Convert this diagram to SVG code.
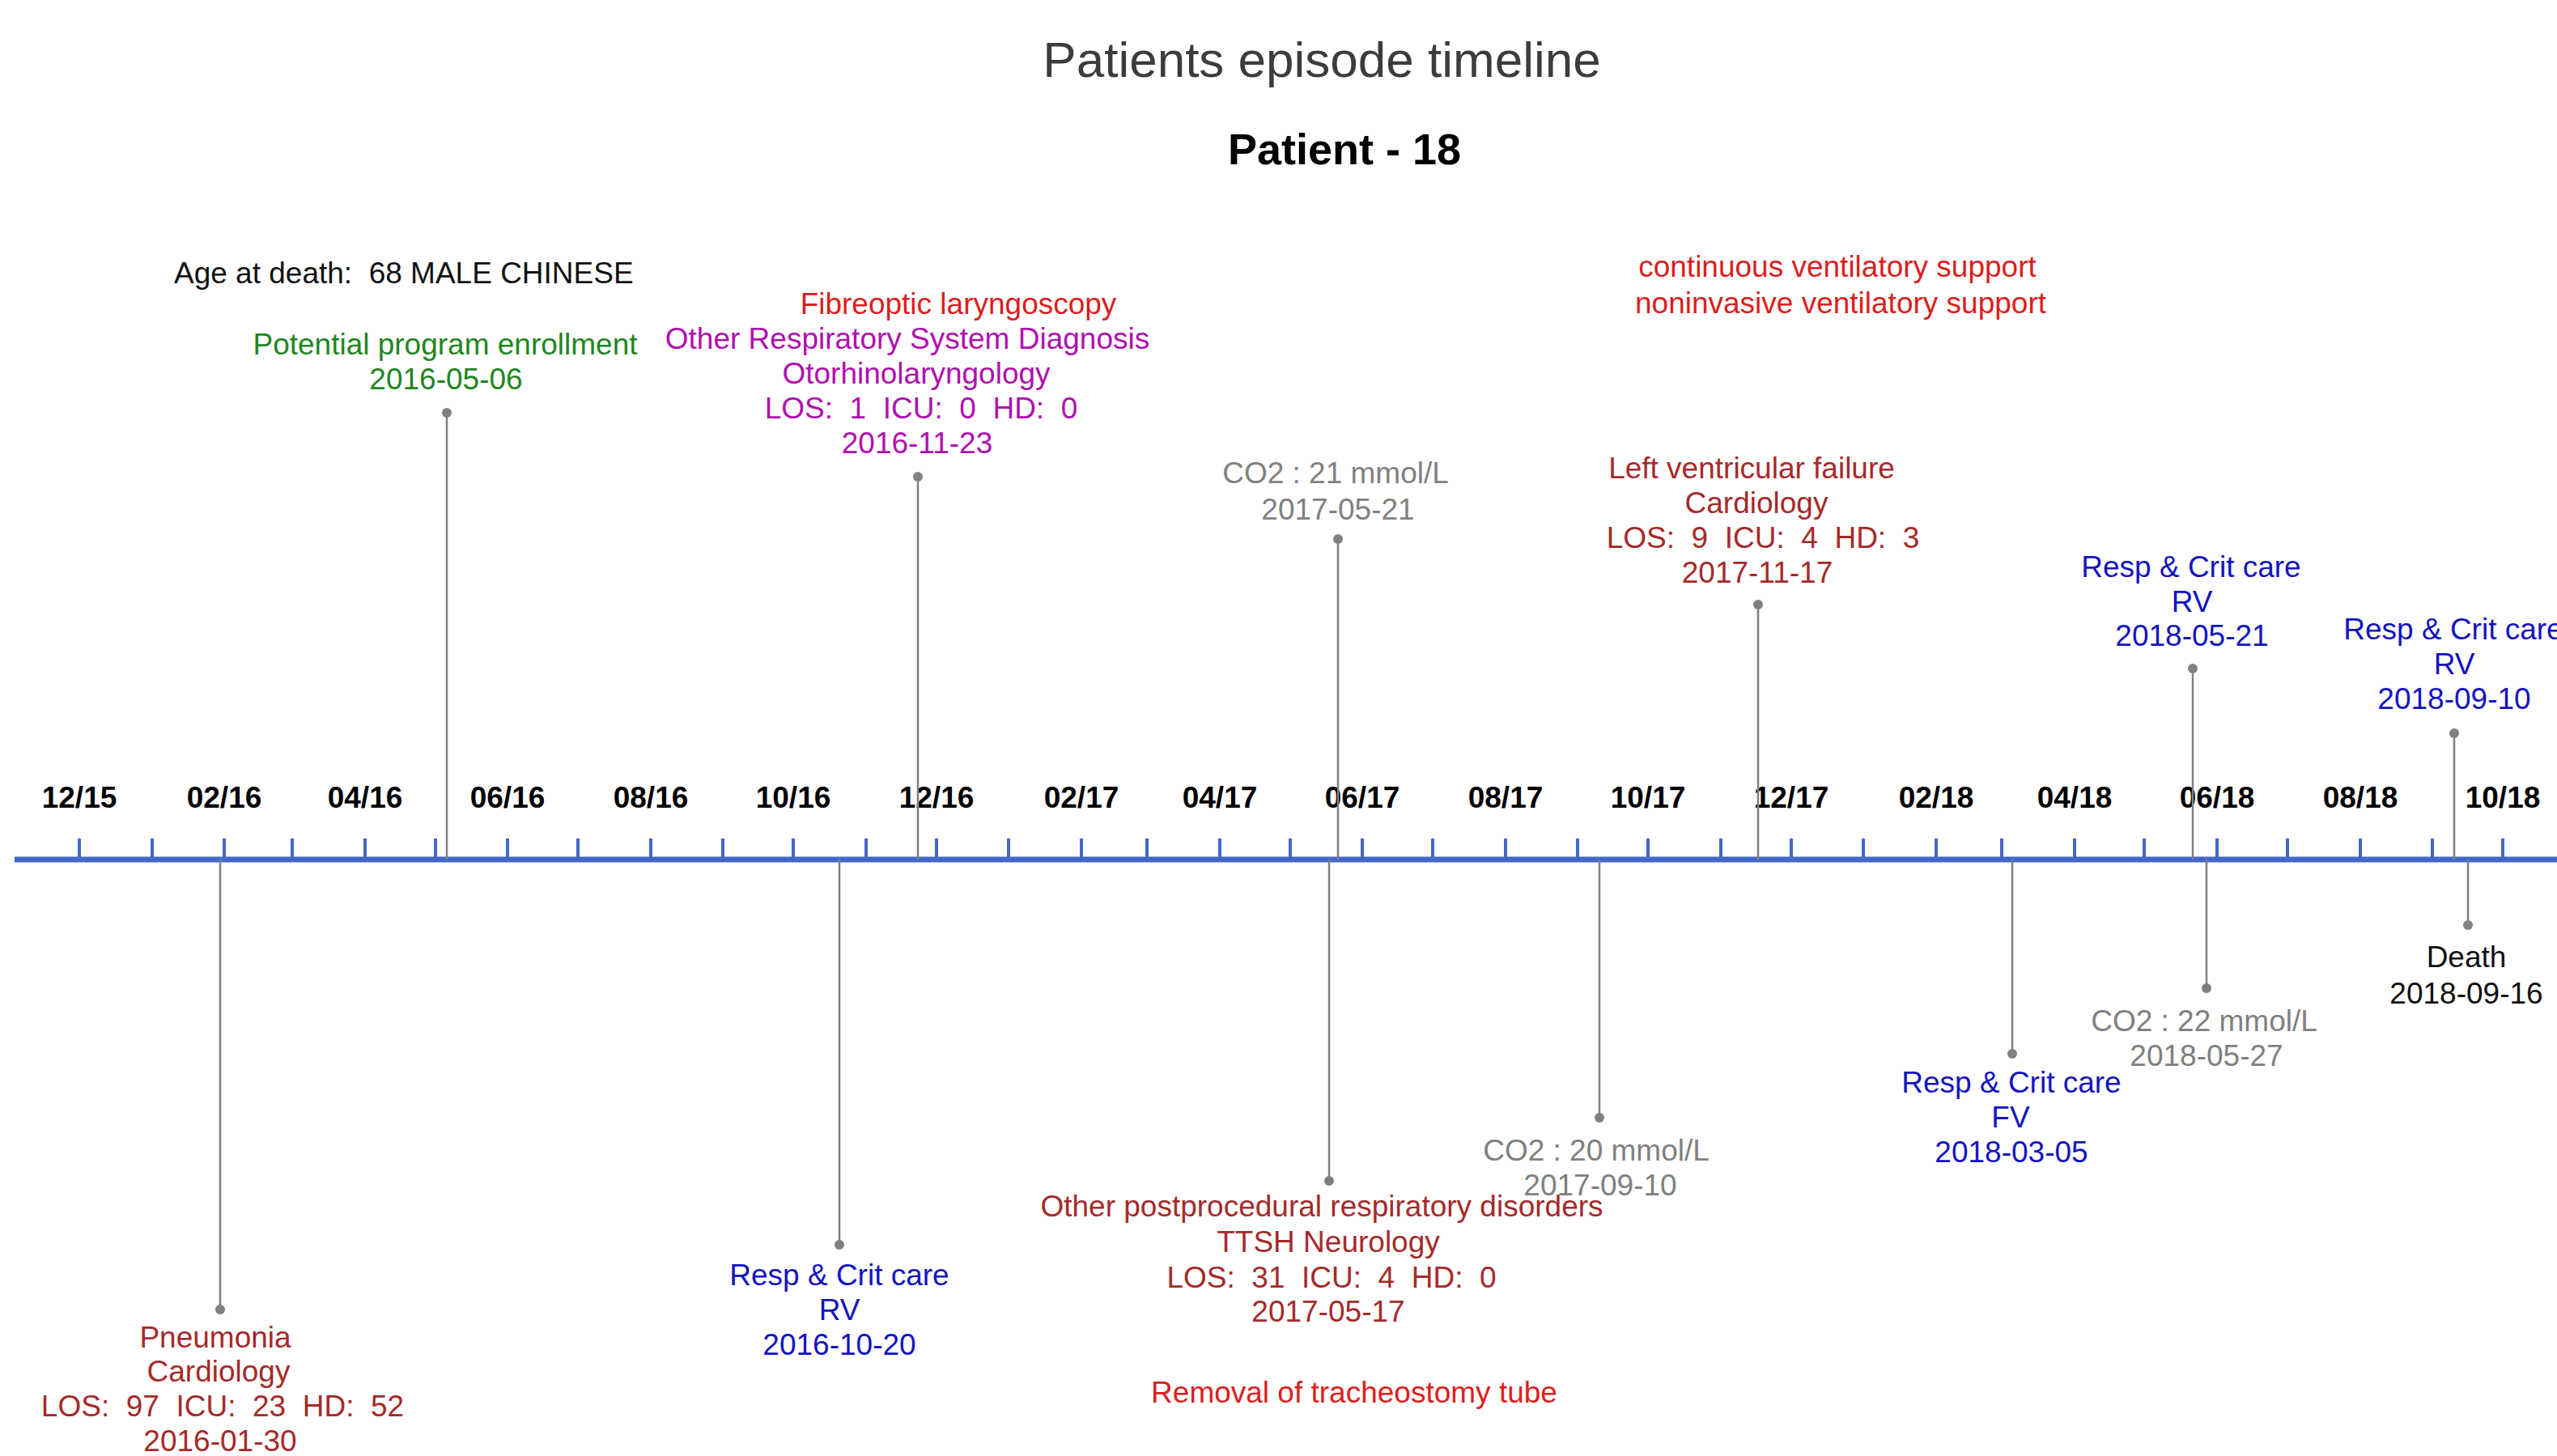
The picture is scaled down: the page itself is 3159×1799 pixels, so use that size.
<svg xmlns="http://www.w3.org/2000/svg" width="3159" height="1799" viewBox="0 0 3159 1799" xml:space="preserve">
<style>
text{font-family:"Liberation Sans",Arial,sans-serif;font-size:37px;text-anchor:middle;white-space:pre}
.title{font-size:62px;fill:#3c3c3c}
.sub{font-size:54px;font-weight:bold;fill:#000}
.ax{font-weight:bold;fill:#000}
.dr{fill:#A52A2A}.rd{fill:#DC1E1E}.mg{fill:#B010B0}.bl{fill:#1414C0}.gy{fill:#808080}.gn{fill:#1F861F}.bk{fill:#111}
.stem{stroke:#808080;stroke-width:2.5}
.dot{fill:#808080}
.tick{stroke:#4468C8;stroke-width:4}
.axis{stroke:#4468C8;stroke-width:7}
</style>
<rect width="3159" height="1799" fill="#fff"/>
<g id="header">
<text class="title" x="1633" y="95">Patients episode timeline</text>
<text class="sub" x="1661" y="203">Patient - 18</text>
<text class="bk" x="215" y="350" style="text-anchor:start" xml:space="preserve">Age at death:  68 MALE CHINESE</text>
</g>
<g id="axis">
<line class="axis" x1="18" y1="1062" x2="3159" y2="1062"/>
<g id="ticks">
<line class="tick" x1="98" y1="1036" x2="98" y2="1062"/>
<line class="tick" x1="188" y1="1036" x2="188" y2="1062"/>
<line class="tick" x1="277" y1="1036" x2="277" y2="1062"/>
<line class="tick" x1="361" y1="1036" x2="361" y2="1062"/>
<line class="tick" x1="451" y1="1036" x2="451" y2="1062"/>
<line class="tick" x1="538" y1="1036" x2="538" y2="1062"/>
<line class="tick" x1="627" y1="1036" x2="627" y2="1062"/>
<line class="tick" x1="714" y1="1036" x2="714" y2="1062"/>
<line class="tick" x1="804" y1="1036" x2="804" y2="1062"/>
<line class="tick" x1="893" y1="1036" x2="893" y2="1062"/>
<line class="tick" x1="980" y1="1036" x2="980" y2="1062"/>
<line class="tick" x1="1070" y1="1036" x2="1070" y2="1062"/>
<line class="tick" x1="1157" y1="1036" x2="1157" y2="1062"/>
<line class="tick" x1="1246" y1="1036" x2="1246" y2="1062"/>
<line class="tick" x1="1336" y1="1036" x2="1336" y2="1062"/>
<line class="tick" x1="1417" y1="1036" x2="1417" y2="1062"/>
<line class="tick" x1="1507" y1="1036" x2="1507" y2="1062"/>
<line class="tick" x1="1594" y1="1036" x2="1594" y2="1062"/>
<line class="tick" x1="1683" y1="1036" x2="1683" y2="1062"/>
<line class="tick" x1="1770" y1="1036" x2="1770" y2="1062"/>
<line class="tick" x1="1860" y1="1036" x2="1860" y2="1062"/>
<line class="tick" x1="1949" y1="1036" x2="1949" y2="1062"/>
<line class="tick" x1="2036" y1="1036" x2="2036" y2="1062"/>
<line class="tick" x1="2126" y1="1036" x2="2126" y2="1062"/>
<line class="tick" x1="2213" y1="1036" x2="2213" y2="1062"/>
<line class="tick" x1="2302" y1="1036" x2="2302" y2="1062"/>
<line class="tick" x1="2392" y1="1036" x2="2392" y2="1062"/>
<line class="tick" x1="2473" y1="1036" x2="2473" y2="1062"/>
<line class="tick" x1="2563" y1="1036" x2="2563" y2="1062"/>
<line class="tick" x1="2649" y1="1036" x2="2649" y2="1062"/>
<line class="tick" x1="2739" y1="1036" x2="2739" y2="1062"/>
<line class="tick" x1="2826" y1="1036" x2="2826" y2="1062"/>
<line class="tick" x1="2916" y1="1036" x2="2916" y2="1062"/>
<line class="tick" x1="3005" y1="1036" x2="3005" y2="1062"/>
<line class="tick" x1="3092" y1="1036" x2="3092" y2="1062"/>
</g>
<g id="axis-labels">
<text class="ax" x="98" y="998">12/15</text>
<text class="ax" x="277" y="998">02/16</text>
<text class="ax" x="451" y="998">04/16</text>
<text class="ax" x="627" y="998">06/16</text>
<text class="ax" x="804" y="998">08/16</text>
<text class="ax" x="980" y="998">10/16</text>
<text class="ax" x="1157" y="998">12/16</text>
<text class="ax" x="1336" y="998">02/17</text>
<text class="ax" x="1507" y="998">04/17</text>
<text class="ax" x="1683" y="998">06/17</text>
<text class="ax" x="1860" y="998">08/17</text>
<text class="ax" x="2036" y="998">10/17</text>
<text class="ax" x="2213" y="998">12/17</text>
<text class="ax" x="2392" y="998">02/18</text>
<text class="ax" x="2563" y="998">04/18</text>
<text class="ax" x="2739" y="998">06/18</text>
<text class="ax" x="2916" y="998">08/18</text>
<text class="ax" x="3092" y="998">10/18</text>
</g>
</g>
<g id="connectors">
<line class="stem" x1="272" y1="1062" x2="272" y2="1618"/>
<line class="stem" x1="552" y1="510" x2="552" y2="1062"/>
<line class="stem" x1="1134" y1="589" x2="1134" y2="1062"/>
<line class="stem" x1="1037" y1="1062" x2="1037" y2="1538"/>
<line class="stem" x1="1642" y1="1062" x2="1642" y2="1459"/>
<line class="stem" x1="1653" y1="666" x2="1653" y2="1062"/>
<line class="stem" x1="2172" y1="747" x2="2172" y2="1062"/>
<line class="stem" x1="1976" y1="1062" x2="1976" y2="1381"/>
<line class="stem" x1="2486" y1="1062" x2="2486" y2="1302"/>
<line class="stem" x1="2726" y1="1062" x2="2726" y2="1221"/>
<line class="stem" x1="2709" y1="826" x2="2709" y2="1062"/>
<line class="stem" x1="3032" y1="906" x2="3032" y2="1062"/>
<line class="stem" x1="3049" y1="1062" x2="3049" y2="1143"/>
</g>
<g id="ev-2016-01-30">
<circle class="dot" cx="272" cy="1618" r="6"/>
<text class="dr" x="266" y="1665">Pneumonia</text>
<text class="dr" x="270" y="1707">Cardiology</text>
<text class="dr" x="275" y="1750" xml:space="preserve">LOS:  97  ICU:  23  HD:  52</text>
<text class="dr" x="272" y="1793">2016-01-30</text>
</g>
<g id="ev-2016-05-06">
<circle class="dot" cx="552" cy="510" r="6"/>
<text class="gn" x="550" y="438">Potential program enrollment</text>
<text class="gn" x="551" y="481">2016-05-06</text>
</g>
<g id="ev-2016-10-20">
<circle class="dot" cx="1037" cy="1538" r="6"/>
<text class="bl" x="1037" y="1588">Resp &amp; Crit care</text>
<text class="bl" x="1037" y="1631">RV</text>
<text class="bl" x="1037" y="1674">2016-10-20</text>
</g>
<g id="ev-2016-11-23">
<circle class="dot" cx="1134" cy="589" r="6"/>
<text class="rd" x="1184" y="388">Fibreoptic laryngoscopy</text>
<text class="mg" x="1121" y="431">Other Respiratory System Diagnosis</text>
<text class="mg" x="1132" y="474">Otorhinolaryngology</text>
<text class="mg" x="1138" y="517" xml:space="preserve">LOS:  1  ICU:  0  HD:  0</text>
<text class="mg" x="1133" y="560">2016-11-23</text>
</g>
<g id="ev-2017-05-17">
<circle class="dot" cx="1642" cy="1459" r="6"/>
<text class="dr" x="1633" y="1503">Other postprocedural respiratory disorders</text>
<text class="dr" x="1641" y="1547">TTSH Neurology</text>
<text class="dr" x="1645" y="1591" xml:space="preserve">LOS:  31  ICU:  4  HD:  0</text>
<text class="dr" x="1641" y="1633">2017-05-17</text>
<text class="rd" x="1673" y="1733">Removal of tracheostomy tube</text>
</g>
<g id="ev-2017-05-21">
<circle class="dot" cx="1653" cy="666" r="6"/>
<text class="gy" x="1650" y="597">CO2 : 21 mmol/L</text>
<text class="gy" x="1653" y="642">2017-05-21</text>
</g>
<g id="ev-2017-09-10">
<circle class="dot" cx="1976" cy="1381" r="6"/>
<text class="gy" x="1972" y="1434">CO2 : 20 mmol/L</text>
<text class="gy" x="1977" y="1477">2017-09-10</text>
</g>
<g id="ev-ventilatory">
<text class="rd" x="2270" y="342">continuous ventilatory support</text>
<text class="rd" x="2274" y="387">noninvasive ventilatory support</text>
</g>
<g id="ev-2017-11-17">
<circle class="dot" cx="2172" cy="747" r="6"/>
<text class="dr" x="2164" y="591">Left ventricular failure</text>
<text class="dr" x="2170" y="634">Cardiology</text>
<text class="dr" x="2178" y="677" xml:space="preserve">LOS:  9  ICU:  4  HD:  3</text>
<text class="dr" x="2171" y="720">2017-11-17</text>
</g>
<g id="ev-2018-03-05">
<circle class="dot" cx="2486" cy="1302" r="6"/>
<text class="bl" x="2485" y="1350">Resp &amp; Crit care</text>
<text class="bl" x="2484" y="1393">FV</text>
<text class="bl" x="2485" y="1436">2018-03-05</text>
</g>
<g id="ev-2018-05-21">
<circle class="dot" cx="2709" cy="826" r="6"/>
<text class="bl" x="2707" y="713">Resp &amp; Crit care</text>
<text class="bl" x="2708" y="756">RV</text>
<text class="bl" x="2708" y="798">2018-05-21</text>
</g>
<g id="ev-2018-05-27">
<circle class="dot" cx="2726" cy="1221" r="6"/>
<text class="gy" x="2723" y="1274">CO2 : 22 mmol/L</text>
<text class="gy" x="2726" y="1317">2018-05-27</text>
</g>
<g id="ev-2018-09-10">
<circle class="dot" cx="3032" cy="906" r="6"/>
<text class="bl" x="3031" y="790">Resp &amp; Crit care</text>
<text class="bl" x="3032" y="833">RV</text>
<text class="bl" x="3032" y="876">2018-09-10</text>
</g>
<g id="ev-2018-09-16">
<circle class="dot" cx="3049" cy="1143" r="6"/>
<text class="bk" x="3047" y="1195">Death</text>
<text class="bk" x="3047" y="1240">2018-09-16</text>
</g>
</svg>
